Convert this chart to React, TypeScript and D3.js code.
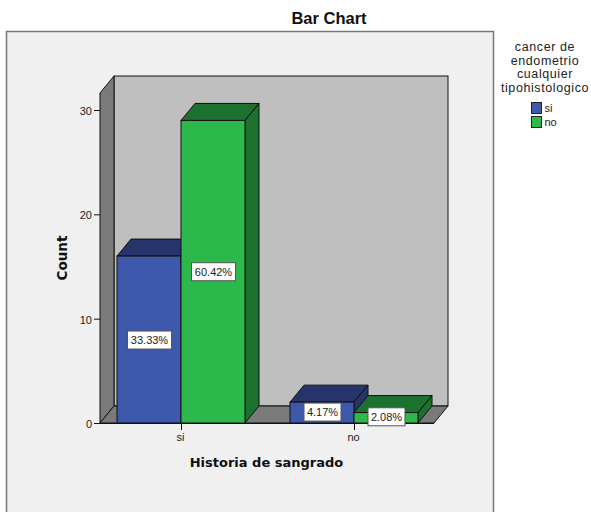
import React from "react";
import * as d3 from "d3";

const categories = ["si", "no"];
const seriesNames = ["si", "no"];
const siValues = [16, 2];
const noValues = [29, 1];
const siLabels = ["33.33%", "4.17%"];
const noLabels = ["60.42%", "2.08%"];
const yTicks = [0, 10, 20, 30];
const legendTitle = ["cancer de", "endometrio", "cualquier", "tipohistologico"];

const FILL = { si: "#3e58ac", no: "#2db84b" };
const DARK = { si: "#26346b", no: "#1c712f" };
const DX = 14, DY = 17;
const sans = "'Liberation Sans', Arial, sans-serif";
const bold = "'DejaVu Sans', Verdana, sans-serif";

const y = d3.scaleLinear().domain([0, 30]).range([423, 110]);
const x0 = d3.scaleBand().domain(categories).range([94.5, 440.5]);
const BAR = 64;
const tickX = (c: string) => (x0(c) as number) + x0.bandwidth() / 2;

const pts = (p: number[][]) => p.map((q) => q.join(",")).join(" ");

function Bar({ left, v, kind }: { left: number; v: number; kind: "si" | "no" }) {
  const t = y(v), b = y(0), r = left + BAR;
  return (
    <g stroke="#111" strokeWidth={1}>
      <polygon points={pts([[left, t], [left + DX, t - DY], [r + DX, t - DY], [r, t]])} fill={DARK[kind]} />
      <polygon points={pts([[r, t], [r + DX, t - DY], [r + DX, b - DY], [r, b]])} fill={DARK[kind]} />
      <rect x={left} y={t} width={BAR} height={b - t} fill={FILL[kind]} />
    </g>
  );
}

function Label({ cx, cy, label }: { cx: number; cy: number; label: string }) {
  const w = label.length > 5 ? 44 : 37;
  return (
    <g>
      <rect x={cx - w / 2} y={cy - 9} width={w} height={18} fill="#fff" stroke="#555" />
      <text x={cx} y={cy + 4} textAnchor="middle" fontFamily={sans} fontSize={11} fill="#222">{label}</text>
    </g>
  );
}

export default function App() {
  const fl = 100, fr = 434;
  const b = y(0);
  const top = b - 330;
  return (
    <svg width={591} height={512} style={{ position: "absolute", left: 0, top: 0, background: "#fff" }}>
      <text x={329} y={24} textAnchor="middle" fontFamily={sans} fontWeight="bold" fontSize={16.5} fill="#111">Bar Chart</text>
      <rect x={6.5} y={31.5} width={487} height={490} fill="#f0f0f0" stroke="#777" strokeWidth={1.5} />

      <g stroke="#111">
        <rect x={fl + DX} y={top - DY} width={fr - fl} height={330} fill="#bfbfbf" />
        <polygon points={pts([[fl, top], [fl + DX, top - DY], [fl + DX, b - DY], [fl, b]])} fill="#7a7a7a" />
        <polygon points={pts([[fl, b], [fl + DX, b - DY], [fr + DX, b - DY], [fr, b]])} fill="#7a7a7a" />
      </g>

      {yTicks.map((t) => (
        <g key={t}>
          <line x1={94} x2={100} y1={y(t) + 0.5} y2={y(t) + 0.5} stroke="#111" />
          <text x={92} y={y(t) + 5} textAnchor="end" fontFamily={sans} fontSize={11} fill="#222">{t}</text>
        </g>
      ))}

      <line x1={fl} x2={fr} y1={b + 0.5} y2={b + 0.5} stroke="#111" />
      {categories.map((c, i) => {
        const tx = tickX(c);
        return (
          <g key={c}>
            <Bar left={tx - BAR} v={siValues[i]} kind="si" />
            <Bar left={tx} v={noValues[i]} kind="no" />
            <line x1={tx + 0.5} x2={tx + 0.5} y1={b} y2={b + 7} stroke="#111" />
            <text x={tx - 0.5} y={441} textAnchor="middle" fontFamily={sans} fontSize={11} fill="#222">{c}</text>
          </g>
        );
      })}
      {categories.map((c, i) => {
        const tx = tickX(c);
        const shift = i === 1 ? 1 : 0;
        return (
          <g key={c}>
            <Label cx={tx - BAR / 2 + 0.5} cy={(y(siValues[i]) + b) / 2 - shift + 0.5} label={siLabels[i]} />
            <Label cx={tx + BAR / 2 + 0.5} cy={(y(noValues[i]) + b) / 2 - shift} label={noLabels[i]} />
          </g>
        );
      })}

      <text x={266.5} y={467} textAnchor="middle" fontFamily={bold} fontWeight="bold" fontSize={13} fill="#111">Historia de sangrado</text>
      <text transform="translate(67,258) rotate(-90)" textAnchor="middle" fontFamily={bold} fontWeight="bold" fontSize={13.5} fill="#111">Count</text>

      {legendTitle.map((l, i) => (
        <text key={l} x={545} y={51 + i * 13.5} textAnchor="middle" fontFamily={sans} fontSize={12.5} letterSpacing={0.6} fill="#222">{l}</text>
      ))}
      {seriesNames.map((s, i) => (
        <g key={s}>
          <rect x={531.5} y={102.5 + i * 14} width={10} height={11} fill={FILL[s as "si" | "no"]} stroke="#222" />
          <text x={544.5} y={112 + i * 14} fontFamily={sans} fontSize={11} fill="#222">{s}</text>
        </g>
      ))}
    </svg>
  );
}
